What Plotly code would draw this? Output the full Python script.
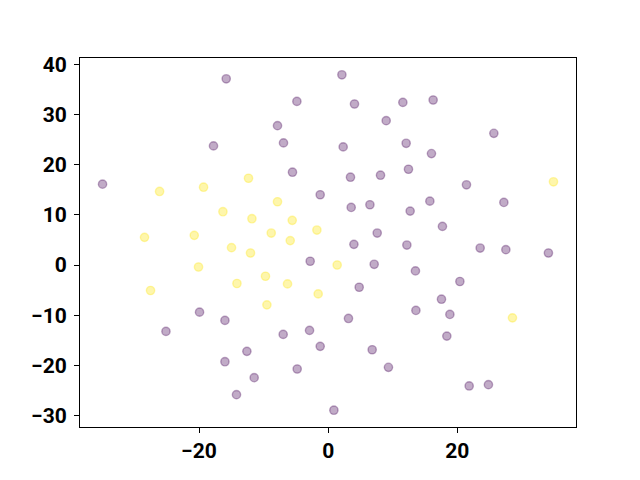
import plotly.graph_objects as go

# class 0 (purple) points
purple_x = [-15.79, -4.85, -7.85, -6.92, -17.76, -5.53, -34.94, -1.24, 2.12, 4.07,
            11.56, 16.25, 8.98, 25.65, 2.32, 12.07, 15.99, 3.45, 8.10, 12.43,
            21.41, 3.56, 6.46, 12.69, 15.74, 27.20, 17.69, 7.59, 3.98, 12.18,
            -2.79, -19.92, -15.99, -25.12, -6.97, -2.89, -1.24, -12.59, -15.99, -4.80,
            -11.46, -14.20, 23.53, 27.51, 34.10, 7.12, 13.51, 4.80, 20.39, 17.54,
            13.58, 18.84, 3.14, 18.37, 6.81, 9.33, 21.83, 24.81, 0.88]
purple_y = [37.17, 32.66, 27.82, 24.38, 23.78, 18.53, 16.14, 14.03, 37.97, 32.14,
            32.46, 32.94, 28.82, 26.29, 23.58, 24.30, 22.25, 17.53, 17.93, 19.12,
            16.02, 11.50, 12.04, 10.77, 12.76, 12.50, 7.72, 6.39, 4.14, 4.00,
            0.76, -9.39, -11.04, -13.23, -13.83, -13.03, -16.22, -17.21, -19.28, -20.74,
            -22.47, -25.85, 3.40, 3.08, 2.41, 0.16, -1.17, -4.42, -3.28, -6.81,
            -9.05, -9.85, -10.65, -14.17, -16.90, -20.40, -24.12, -23.86, -28.96]

# class 1 (yellow) points
yellow_x = [-12.34, -26.11, -19.30, -16.30, -7.85, -11.81, -5.57, -8.82, -1.75, -28.44,
            -20.74, -5.88, -14.97, -12.03, -20.08, -27.51, -14.13, -9.71, -6.30, -1.55,
            -9.49, 1.39, 34.88, 28.53]
yellow_y = [17.33, 14.69, 15.54, 10.65, 12.64, 9.25, 8.92, 6.39, 6.99, 5.53,
            5.93, 4.88, 3.48, 2.41, -0.38, -5.07, -3.68, -2.23, -3.76, -5.75,
            -7.94, 0.02, 16.62, -10.53]

x_ticks = [-20, 0, 20]
y_ticks = [-30, -20, -10, 0, 10, 20, 30, 40]

purple = "rgba(68,1,84,0.33)"
yellow = "rgba(253,231,37,0.38)"

fig = go.Figure()
fig.add_trace(go.Scatter(x=purple_x, y=purple_y, mode="markers",
                         marker=dict(size=8.3, color=purple, line=dict(color=purple, width=1.4))))
fig.add_trace(go.Scatter(x=yellow_x, y=yellow_y, mode="markers",
                         marker=dict(size=8.3, color=yellow, line=dict(color=yellow, width=1.4))))

tick_font = dict(family="Roboto, sans-serif", size=21, color="black", weight=700)
axis_common = dict(showgrid=False, zeroline=False, showline=True, linecolor="black",
                   linewidth=1, mirror=True, ticks="outside", ticklen=4.9, tickwidth=1.1,
                   tickcolor="black", tickfont=tick_font)

fig.update_layout(
    width=640, height=480,
    margin=dict(l=72, r=72, t=50, b=61),
    paper_bgcolor="white", plot_bgcolor="white",
    showlegend=False,
    xaxis=dict(range=[-38.43, 38.37], tickvals=x_ticks, ticklabelstandoff=0, **axis_common),
    yaxis=dict(range=[-32.31, 41.32], tickvals=y_ticks, ticklabelstandoff=3, **axis_common),
)

fig.write_html("out.html")
